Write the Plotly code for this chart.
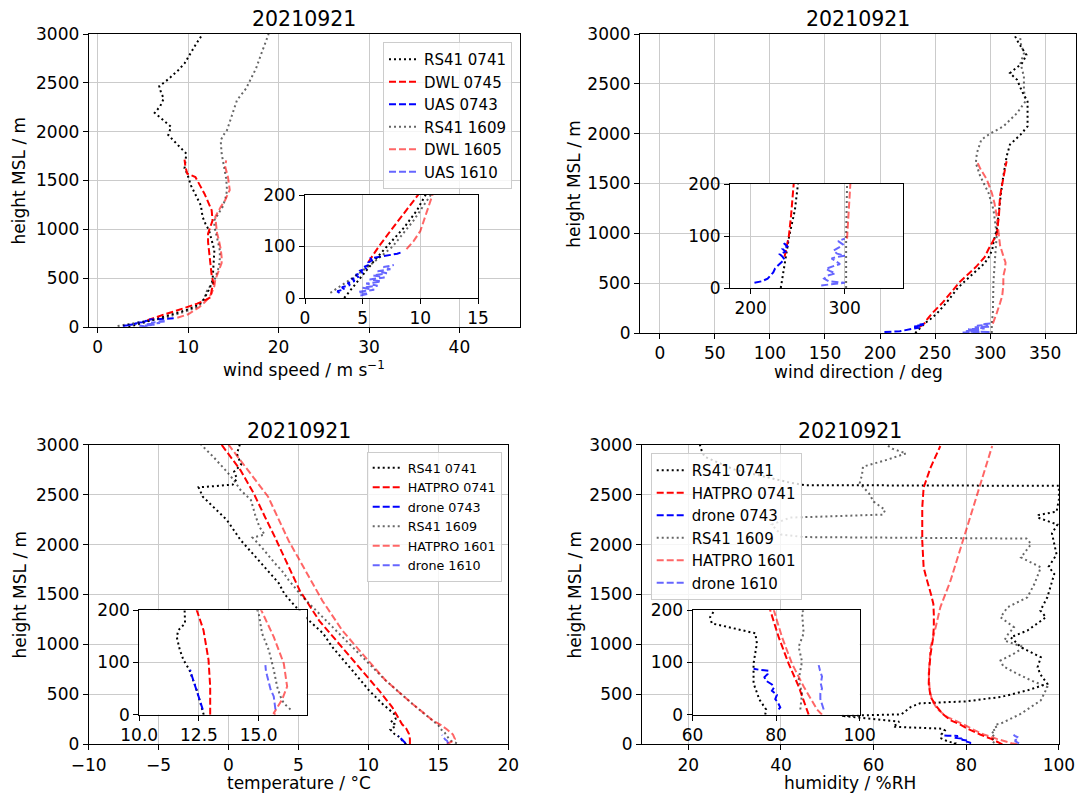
import plotly.graph_objects as go

W, H = 1078, 794


def fx(px):
    return px / W


def fy(py):
    return 1 - py / H


# ---------------- Panel 1: wind speed ----------------
H_WS_RS0741 = [0, 25, 50, 75, 100, 137, 170, 200, 222, 260, 307, 400, 478, 614, 700, 785, 890, 990, 1060,
               1126, 1246, 1350, 1450, 1570, 1624, 1700, 1775, 1850, 1911, 1965, 2050, 2120, 2193, 2260,
               2339, 2400, 2465, 2537, 2629, 2700, 2748, 2820, 2901, 3000]
WS_RS0741 = [3.4, 4.3, 5.2, 6.1, 7.1, 8.6, 9.7, 10.5, 11.0, 11.6, 11.9, 12.4, 12.7, 12.8, 12.9, 12.9, 12.6,
             12.3, 11.9, 11.6, 11.4, 10.8, 10.3, 9.9, 9.6, 9.7, 9.8, 9.0, 8.3, 7.8, 8.1, 7.2, 6.3, 6.9,
             7.3, 7.0, 6.8, 7.8, 8.9, 9.6, 9.9, 10.4, 10.9, 11.6]

H_WS_DWL0745 = [70, 100, 130, 164, 200, 239, 280, 307, 380, 444, 530, 614, 700, 785, 870, 956, 1030, 1092,
                1195, 1280, 1365, 1450, 1536, 1570, 1640, 1713]
WS_DWL0745 = [5.5, 6.4, 7.4, 8.6, 9.8, 11.0, 12.0, 12.5, 12.6, 12.8, 12.6, 12.5, 12.4, 12.3, 12.2, 12.2,
              12.5, 12.7, 12.6, 12.2, 11.8, 11.3, 10.8, 9.9, 9.7, 9.6]

H_WS_UAS0743 = [10, 13, 17, 21, 25, 29, 33, 37, 41, 45, 49, 53, 57, 61, 65, 69, 73, 77, 80, 83, 86, 89]
WS_UAS0743 = [3.0, 2.8, 3.4, 3.2, 3.9, 3.7, 4.3, 4.1, 4.6, 4.4, 5.0, 4.8, 5.3, 5.2, 5.6, 5.5, 5.8, 5.7,
              6.5, 7.3, 8.0, 8.4]

H_WS_RS1609 = [10, 40, 70, 100, 150, 200, 239, 300, 375, 478, 614, 700, 785, 870, 956, 1030, 1092, 1160,
               1229, 1310, 1399, 1520, 1638, 1777, 1911, 1965, 2016, 2150, 2322, 2441, 2550, 2646, 2800,
               2900, 3000]
WS_RS1609 = [2.2, 4.2, 6.0, 7.6, 9.4, 10.9, 11.4, 11.8, 12.1, 12.9, 13.4, 13.5, 13.5, 13.3, 13.1, 12.9,
             12.9, 13.3, 13.8, 14.1, 14.3, 14.2, 14.0, 13.7, 13.6, 13.9, 14.3, 14.8, 15.4, 16.4, 17.0,
             17.5, 18.1, 18.5, 18.9]

H_WS_DWL1605 = [95, 110, 130, 160, 200, 250, 300, 347, 420, 483, 580, 654, 717, 800, 887, 960, 1040, 1092,
                1130, 1229, 1300, 1365, 1403, 1470, 1536, 1641, 1706]
WS_DWL1605 = [8.8, 9.4, 10.0, 10.5, 11.2, 11.8, 12.3, 12.6, 12.9, 13.0, 13.4, 13.7, 13.7, 13.6, 13.4,
              13.2, 13.1, 13.0, 13.0, 13.6, 14.1, 14.4, 14.6, 14.5, 14.4, 14.1, 14.2]

H_WS_UAS1610 = [5, 8, 12, 16, 20, 24, 28, 32, 36, 40, 44, 48, 52, 56, 60, 64]
WS_UAS1610 = [4.8, 5.5, 4.6, 6.0, 5.0, 6.3, 5.3, 6.6, 5.6, 6.9, 5.9, 7.1, 6.3, 7.4, 6.8, 7.7]

# ---------------- Panel 2: wind direction ----------------
H_WD_RS0741 = [0, 50, 100, 150, 200, 300, 457, 550, 640, 700, 773, 840, 907, 1040, 1173, 1307, 1507, 1707,
               1773, 1890, 1990, 2073, 2173, 2323, 2423, 2540, 2607, 2707, 2790, 2907, 3000]
WD_RS0741 = [232, 236.5, 241, 247, 252, 260, 271, 280, 289, 295, 299.5, 302, 303, 306, 307.5, 309, 311, 314,
             315, 318, 327.6, 334, 334, 334, 329, 324.5, 318, 329, 333, 326, 321.5]

H_WD_DWL0745 = [60, 100, 140, 200, 307, 400, 507, 600, 673, 760, 840, 990, 1173, 1373, 1507, 1673, 1723]
WD_DWL0745 = [236, 240.6, 243, 247.5, 257, 264, 272, 281, 288, 295, 298.5, 306, 308, 309, 311, 314, 315]

H_WD_UAS0743 = [10, 13, 18, 24, 30, 38, 45, 48, 55, 60, 65, 70, 75, 80, 85, 90]
WD_UAS0743 = [204, 212, 218, 221, 224, 226, 230, 232, 236, 234, 231, 237, 234, 239, 236, 240]

H_WD_RS1609 = [0, 100, 200, 240, 507, 773, 973, 1107, 1240, 1407, 1573, 1707, 1807, 1940, 2000, 2073, 2207,
               2323, 2440, 2573, 2707, 2807, 2900, 2990]
WD_RS1609 = [301.5, 301.5, 302.5, 302.5, 303, 304.6, 306, 304.6, 303, 298.5, 291, 287, 288, 292, 300, 312,
             324.5, 332, 330.7, 330.7, 327.6, 330.7, 328, 327]

H_WD_DWL1605 = [95, 150, 200, 300, 373, 480, 573, 640, 707, 773, 880, 1007, 1173, 1300, 1407, 1540, 1650,
                1723]
WD_DWL1605 = [302.5, 304, 306, 309, 311, 312, 312, 313.5, 314, 312, 309, 307.7, 306, 304, 301.5, 297, 291,
              288]

H_WD_UAS1610 = [5, 8, 10, 13, 18, 24, 28, 33, 37, 42, 46, 52, 57, 60, 62, 66, 72, 78, 84, 90, 95]
WD_UAS1610 = [275, 290, 300, 283, 278, 282, 290, 284, 280, 288, 295, 290, 286, 293, 300, 292, 288, 294,
              298, 293, 300]

# ---------------- Panel 3: temperature ----------------
H_T_RS0741 = [0, 16, 48, 86, 105, 124, 149, 162, 175, 200, 223, 256, 306, 406, 539, 739, 972, 1111, 1239,
              1378, 1505, 1612, 1812, 2046, 2246, 2379, 2479, 2573, 2600, 2660, 2730, 2800, 2910, 3000]
T_RS0741 = [12.7, 12.6, 12.4, 12.1, 11.85, 11.7, 11.57, 11.64, 11.92, 11.9, 11.6, 11.95, 11.83, 11.0,
            10.05, 8.86, 7.43, 6.76, 5.76, 4.8, 4.0, 3.6, 2.33, 0.86, -0.12, -1.1, -1.84, -2.14, 0.3,
            0.6, 0.4, 0.9, 0.6, 0.8]

H_T_HAT0741 = [0, 54, 105, 162, 200, 373, 539, 772, 1006, 1239, 1538, 1845, 2079, 2279, 2513, 2746, 3000]
T_HAT0741 = [12.97, 12.97, 12.9, 12.69, 12.41, 11.7, 10.76, 9.33, 7.9, 6.48, 5.1, 4.1, 3.3, 2.6, 1.8,
             0.85, -0.5]

H_T_DRN0743 = [10, 18, 29, 40, 54, 65, 75, 86]
T_DRN0743 = [12.66, 12.6, 12.55, 12.45, 12.34, 12.25, 12.2, 12.13]

H_T_RS1609 = [10, 22, 35, 54, 86, 124, 156, 194, 240, 406, 639, 872, 1106, 1372, 1478, 1645, 1740, 1812,
              1979, 2070, 2100, 2179, 2300, 2446, 2546, 2646, 2730, 2880, 3000]
T_RS1609 = [16.33, 16.05, 15.91, 15.77, 15.63, 15.42, 15.14, 15.0, 14.57, 13.14, 11.24, 9.57, 7.9, 6.0,
            5.28, 4.3, 3.8, 3.32, 2.33, 1.72, 2.58, 2.2, 1.9, 1.6, 0.86, 0.37, -0.12, -1.1, -1.96]

H_T_HAT1601 = [0, 3, 29, 54, 98, 149, 197, 240, 406, 639, 906, 1139, 1438, 1738, 2038, 2479, 2746, 3000]
T_HAT1601 = [15.7, 15.63, 15.98, 16.19, 16.05, 15.63, 15.14, 14.6, 13.14, 11.24, 9.57, 8.14, 6.71, 5.52,
             4.3, 2.83, 1.35, 0.0]

H_T_DRN1610 = [10, 20, 35, 48, 60, 75, 85, 95]
T_DRN1610 = [15.7, 15.68, 15.63, 15.5, 15.42, 15.35, 15.3, 15.28]

# ---------------- Panel 4: humidity ----------------
H_RH_RS0741 = [0, 10, 29, 60, 98, 137, 156, 168, 175, 187, 197, 227, 250, 285, 300, 373, 410, 430, 460,
               473, 540, 606, 700, 772, 872, 972, 1072, 1139, 1272, 1339, 1472, 1605, 1705, 1779, 1900,
               2112, 2200, 2271, 2296, 2330, 2450, 2560, 2588, 2595, 2620, 2750, 2880, 2950, 3000]
RH_RS0741 = [77.4, 77.6, 76.0, 74.6, 74.6, 75.4, 75.0, 68.6, 64.6, 64.2, 65.0, 65.5, 60.0, 53.0, 66.0,
             68.0, 70.0, 80.0, 85.0, 87.4, 93.2, 97.5, 96.0, 95.4, 96.1, 91.8, 89.6, 93.2, 97.2, 96.0,
             97.5, 98.3, 99.0, 97.8, 99.5, 98.5, 99.7, 95.4, 95.6, 99.5, 100.0, 100.0, 100.0, 45.0, 42.0,
             30.0, 23.5, 22.8, 22.5]

H_RH_HAT0741 = [0, 54, 98, 149, 200, 240, 300, 373, 473, 606, 750, 906, 1050, 1172, 1300, 1405, 1500, 1572,
                1680, 1772, 2038, 2371, 2571, 2771, 2987]
RH_HAT0741 = [87.8, 85.4, 83.0, 80.6, 78.6, 76.6, 75.0, 73.7, 72.3, 71.9, 72.0, 72.3, 72.8, 73.0, 73.0,
              72.9, 72.4, 71.9, 71.3, 70.8, 70.5, 70.5, 70.8, 72.3, 74.4]

H_RH_DRN0743 = [10, 14, 22, 30, 38, 46, 52, 58, 65, 72, 78, 84, 86, 88]
RH_DRN0743 = [80.6, 81.0, 80.5, 79.8, 80.2, 79.0, 79.5, 79.0, 77.6, 77.2, 78.0, 78.2, 76.0, 74.6]

H_RH_RS1609 = [10, 41, 67, 102, 130, 156, 197, 206, 306, 440, 573, 640, 706, 780, 839, 900, 972, 1039,
               1100, 1172, 1272, 1372, 1472, 1605, 1700, 1772, 1871, 2005, 2060, 2075, 2100, 2200, 2270,
               2290, 2300, 2346, 2430, 2513, 2613, 2700, 2780, 2850, 2913, 2960, 2997]
RH_RS1609 = [85.8, 86.2, 85.4, 86.2, 85.4, 86.6, 86.2, 87.4, 91.8, 96.1, 97.5, 94.0, 91.0, 88.0, 87.4,
             90.0, 92.5, 88.2, 89.0, 90.3, 87.4, 88.9, 93.2, 94.7, 95.5, 96.1, 91.8, 94.0, 93.0, 45.0,
             40.0, 38.0, 42.0, 53.0, 62.0, 62.5, 60.0, 59.0, 57.0, 57.5, 57.7, 63.0, 67.0, 64.0, 62.9]

H_RH_HAT1601 = [0, 10, 54, 98, 149, 200, 273, 350, 440, 550, 706, 850, 972, 1172, 1372, 1638, 1905, 2171,
                2438, 2704, 2987]
RH_HAT1601 = [91.0, 89.8, 86.6, 83.8, 81.4, 79.4, 75.9, 73.8, 72.6, 72.1, 71.9, 72.1, 72.3, 73.4, 74.4,
              76.6, 78.4, 80.2, 82.0, 83.8, 85.6]

H_RH_DRN1610 = [10, 20, 30, 41, 50, 60, 73, 85, 95]
RH_DRN1610 = [91.4, 91.0, 90.6, 90.6, 91.0, 90.7, 91.0, 90.5, 90.2]

TITLE = "20210921"

# ---------------- styling ----------------
FONT = "DejaVu Sans"
BLACK, RED, BLUE = "#000000", "#ff0000", "#0000ff"
GRAY, LRED, LBLUE = "rgba(0,0,0,0.6)", "rgba(255,0,0,0.6)", "rgba(0,0,255,0.6)"
DOT, DASH = "2px,3px", "7px,3px"

fig = go.Figure()


def add(x, y, name, color, dash, main, inset, legend):
    fig.add_trace(go.Scatter(
        x=x, y=y, mode="lines", name=name,
        line=dict(color=color, dash=dash, width=2),
        xaxis=main[0], yaxis=main[1],
        legend=legend if legend else "legend",
        showlegend=bool(legend), hoverinfo="skip"))
    fig.add_trace(go.Scatter(
        x=x, y=y, mode="lines", name=name,
        line=dict(color=color, dash=dash, width=2),
        xaxis=inset[0], yaxis=inset[1], showlegend=False, hoverinfo="skip"))


# panel 1
m, i, lg = ("x", "y"), ("x5", "y5"), "legend"
add(WS_RS0741, H_WS_RS0741, "RS41 0741", BLACK, DOT, m, i, lg)
add(WS_DWL0745, H_WS_DWL0745, "DWL 0745", RED, DASH, m, i, lg)
add(WS_UAS0743, H_WS_UAS0743, "UAS 0743", BLUE, DASH, m, i, lg)
add(WS_RS1609, H_WS_RS1609, "RS41 1609", GRAY, DOT, m, i, lg)
add(WS_DWL1605, H_WS_DWL1605, "DWL 1605", LRED, DASH, m, i, lg)
add(WS_UAS1610, H_WS_UAS1610, "UAS 1610", LBLUE, DASH, m, i, lg)

# panel 2
m, i, lg = ("x2", "y2"), ("x6", "y6"), None
add(WD_RS0741, H_WD_RS0741, "RS41 0741", BLACK, DOT, m, i, lg)
add(WD_DWL0745, H_WD_DWL0745, "DWL 0745", RED, DASH, m, i, lg)
add(WD_UAS0743, H_WD_UAS0743, "UAS 0743", BLUE, DASH, m, i, lg)
add(WD_RS1609, H_WD_RS1609, "RS41 1609", GRAY, DOT, m, i, lg)
add(WD_DWL1605, H_WD_DWL1605, "DWL 1605", LRED, DASH, m, i, lg)
add(WD_UAS1610, H_WD_UAS1610, "UAS 1610", LBLUE, DASH, m, i, lg)

# panel 3
m, i, lg = ("x3", "y3"), ("x7", "y7"), "legend2"
add(T_RS0741, H_T_RS0741, "RS41 0741", BLACK, DOT, m, i, lg)
add(T_HAT0741, H_T_HAT0741, "HATPRO 0741", RED, DASH, m, i, lg)
add(T_DRN0743, H_T_DRN0743, "drone 0743", BLUE, DASH, m, i, lg)
add(T_RS1609, H_T_RS1609, "RS41 1609", GRAY, DOT, m, i, lg)
add(T_HAT1601, H_T_HAT1601, "HATPRO 1601", LRED, DASH, m, i, lg)
add(T_DRN1610, H_T_DRN1610, "drone 1610", LBLUE, DASH, m, i, lg)

# panel 4
m, i, lg = ("x4", "y4"), ("x8", "y8"), "legend3"
add(RH_RS0741, H_RH_RS0741, "RS41 0741", BLACK, DOT, m, i, lg)
add(RH_HAT0741, H_RH_HAT0741, "HATPRO 0741", RED, DASH, m, i, lg)
add(RH_DRN0743, H_RH_DRN0743, "drone 0743", BLUE, DASH, m, i, lg)
add(RH_RS1609, H_RH_RS1609, "RS41 1609", GRAY, DOT, m, i, lg)
add(RH_HAT1601, H_RH_HAT1601, "HATPRO 1601", LRED, DASH, m, i, lg)
add(RH_DRN1610, H_RH_DRN1610, "drone 1610", LBLUE, DASH, m, i, lg)

common = dict(showline=True, mirror=True, linecolor="black", linewidth=1, ticks="outside", ticklen=5,
              tickwidth=1, tickcolor="black", showgrid=True, gridcolor="#cbcbcb", gridwidth=1,
              zeroline=False, automargin=False,
              tickfont=dict(family=FONT, size=17, color="black"), fixedrange=True)


def xax(px0, px1, rng, tickvals, anchor, ticktext=None):
    d = dict(common, domain=[fx(px0), fx(px1)], range=rng, tickvals=tickvals, anchor=anchor)
    if ticktext:
        d["ticktext"] = ticktext
    return d


def yax(py_top, py_bot, rng, tickvals, anchor):
    return dict(common, domain=[fy(py_bot), fy(py_top)], range=rng, tickvals=tickvals, anchor=anchor)


HT = [0, 500, 1000, 1500, 2000, 2500, 3000]
HI = [0, 100, 200]

layout = dict(
    width=W, height=H, margin=dict(l=0, r=0, t=0, b=0, autoexpand=False),
    paper_bgcolor="white", plot_bgcolor="white",
    font=dict(family=FONT, color="black"),
    xaxis=xax(88.7, 520, [-1.0, 46.7], [0, 10, 20, 30, 40], "y"),
    yaxis=yax(34, 327, [0, 3000], HT, "x"),
    xaxis2=xax(640, 1076, [-18, 378], [0, 50, 100, 150, 200, 250, 300, 350], "y2"),
    yaxis2=yax(34, 333, [0, 3000], HT, "x2"),
    xaxis3=xax(88.7, 508.2, [-10, 20], [-10, -5, 0, 5, 10, 15, 20], "y3"),
    yaxis3=yax(444.7, 744.3, [0, 3000], HT, "x3"),
    xaxis4=xax(642, 1058.9, [10, 100], [20, 40, 60, 80, 100], "y4"),
    yaxis4=yax(444.7, 744.3, [0, 3000], HT, "x4"),
    xaxis5=xax(305, 478, [0, 15], [0, 5, 10, 15], "y5"),
    yaxis5=yax(195, 298, [0, 200], HI, "x5"),
    xaxis6=xax(730, 903, [178, 362], [200, 300], "y6"),
    yaxis6=yax(184, 288, [0, 200], HI, "x6"),
    xaxis7=xax(139.2, 306.5, [10, 17], [10, 12.5, 15], "y7", ["10.0", "12.5", "15.0"]),
    yaxis7=yax(610.3, 714.7, [0, 200], HI, "x7"),
    xaxis8=xax(692.6, 859.6, [60, 100], [60, 80, 100], "y8"),
    yaxis8=yax(610.3, 714.7, [0, 200], HI, "x8"),
    legend=dict(x=fx(512), y=fy(42), xanchor="right", yanchor="top", bgcolor="rgba(255,255,255,0.8)",
                bordercolor="#cccccc", borderwidth=1, font=dict(family=FONT, size=15, color="black")),
    legend2=dict(x=fx(501.7), y=fy(452), xanchor="right", yanchor="top", bgcolor="rgba(255,255,255,0.8)",
                 bordercolor="#cccccc", borderwidth=1, font=dict(family=FONT, size=12.7, color="black")),
    legend3=dict(x=fx(650.7), y=fy(453), xanchor="left", yanchor="top", bgcolor="rgba(255,255,255,0.8)",
                 bordercolor="#cccccc", borderwidth=1, font=dict(family=FONT, size=15, color="black")),
    showlegend=True,
)
fig.update_layout(**layout)

ann = []


def text(px, py, s, size, angle=0):
    ann.append(dict(x=fx(px), y=fy(py), xref="paper", yref="paper", text=s, showarrow=False,
                    xanchor="center", yanchor="middle", textangle=angle,
                    font=dict(family=FONT, size=size, color="black")))


for cx, cy in [(304, 19), (858, 19), (298.5, 431), (850, 431)]:
    text(cx, cy, TITLE, 20.5)
text(304, 369, "wind speed / m s<sup>−1</sup>", 17)
text(858, 372, "wind direction / deg", 17)
text(298.5, 783, "temperature / °C", 17)
text(850, 783, "humidity / %RH", 17)
for cx, cy in [(19, 180.5), (574, 183.7), (19, 594.5), (574, 594.5)]:
    text(cx, cy, "height MSL / m", 17, -90)
fig.update_layout(annotations=ann)

fig.write_html("out.html")
